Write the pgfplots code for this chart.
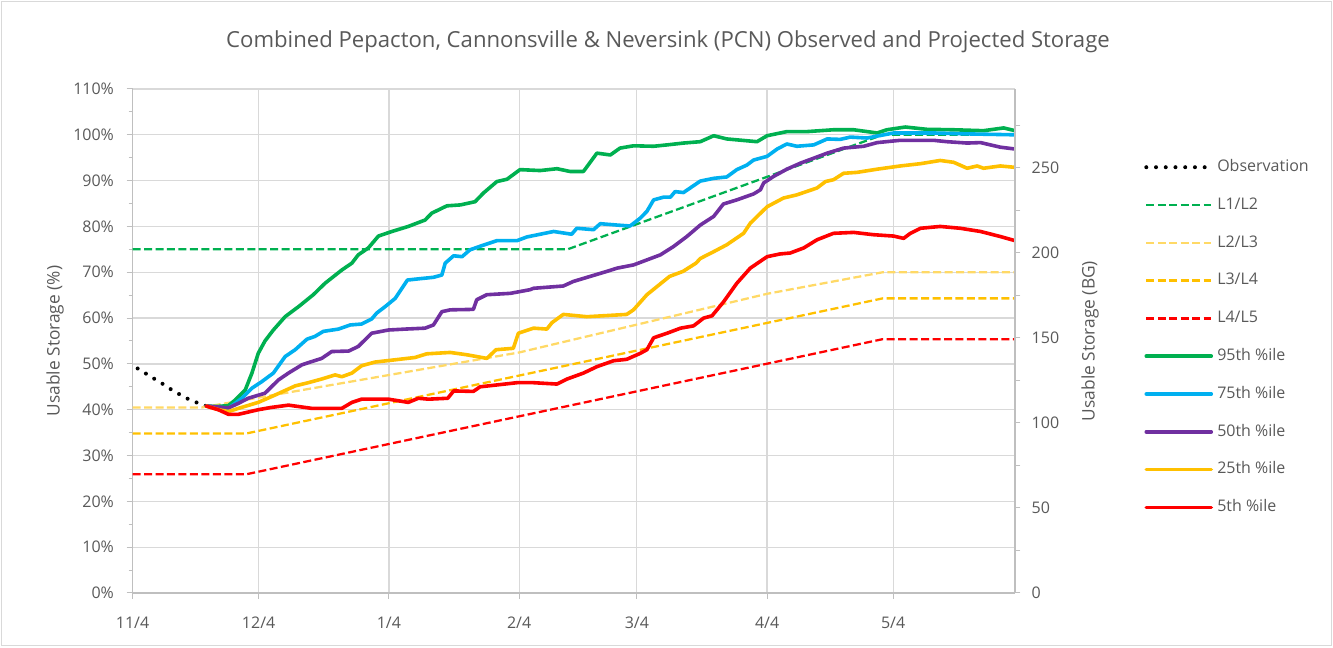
\documentclass[border=0pt]{standalone}
\usepackage{fontspec}
\setmainfont{Open Sans}
\usepackage{pgfplots}
\pgfplotsset{compat=1.18}
\definecolor{txt}{HTML}{595959}
\definecolor{grd}{HTML}{D9D9D9}
\definecolor{axl}{HTML}{BFBFBF}
\definecolor{cgreen}{HTML}{00B050}
\definecolor{cblue}{HTML}{00B0F0}
\definecolor{cpurple}{HTML}{7030A0}
\definecolor{cgold}{HTML}{FFC000}
\definecolor{cred}{HTML}{FF0000}
\definecolor{clight}{HTML}{FFD966}
\pgfplotsset{
  dashln/.style={line width=1.7pt, dash pattern=on 6pt off 2.6pt},
  solidln/.style={line width=2.7pt, line join=round, line cap=round},
}
\begin{document}
\begin{tikzpicture}[x=1pt,y=1pt]
\useasboundingbox (-99.45,-41.25) rectangle (900.3,444.75);
\draw[grd, line width=0.75pt] (-97.95,-39.75) rectangle (898.8,443.25);
\begin{axis}[at={(0,0)}, anchor=south west, scale only axis,
  width=661.8pt, height=378pt,
  xmin=0, xmax=210, ymin=0, ymax=110,
  axis x line*=bottom, axis y line*=left,
  axis line style={axl, line width=0.9pt},
  xtick={0,30,61,92,120,151,181},
  xticklabels={11/4,12/4,1/4,2/4,3/4,4/4,5/4},
  ytick={0,10,...,110}, minor ytick={5,15,...,105},
  yticklabel={\pgfmathprintnumber{\tick}\%},
  /pgf/number format/assume math mode=true,
  grid=major, major grid style={grd, line width=0.9pt},
  tick align=outside, major tick length=4.5pt, minor tick length=3pt,
  tick style={axl, line width=0.75pt},
  every tick label/.append style={text=txt, font=\fontsize{12}{14}\selectfont},
  xticklabel shift=10pt,
  yticklabel shift=6pt,
  ylabel={Usable Storage (\%)},
  ylabel style={at={(axis description cs:0,0.5)}, anchor=center, yshift=58.2pt, text=txt, font=\fontsize{13}{15}\selectfont},
  legend style={at={(1.1462,0.5073)}, anchor=west, draw=none, fill=none,
    inner sep=0pt, row sep=14.85pt, text=txt, font=\fontsize{12}{14}\selectfont,
    nodes={inner sep=0pt, inner xsep=3pt, text height=10pt, text depth=3.5pt}},
  legend cell align=left,
  legend image code/.code={\draw[#1] (0pt,0pt) -- (48.75pt,0pt);},
]
% Observation
\addplot[black, line width=3pt, line cap=round, dash pattern=on 0pt off 7.3pt] coordinates {
(1.2,49.0) (3.5,47.7) (5.6,46.5) (7.6,45.4) (9.7,44.1) (11.7,43.1) (13.9,42.0) (16.1,41.3) (17.5,40.8)};
\addlegendentry{Observation}
% L1/L2
\addplot[cgreen, dashln] coordinates {(0,75) (103.5,75) (178.5,100) (210,100)};
\addlegendentry{L1/L2}
% L2/L3
\addplot[clight, dashln] coordinates {(0,40.5) (16.5,40.5) (92,52.5) (151,65.3) (178.5,70) (210,70)};
\addlegendentry{L2/L3}
% L3/L4
\addplot[cgold, dashln] coordinates {(0,34.8) (27,34.8) (178.5,64.3) (210,64.3)};
\addlegendentry{L3/L4}
% L4/L5
\addplot[cred, dashln] coordinates {(0,25.9) (27,25.9) (178.5,55.4) (210,55.4)};
\addlegendentry{L4/L5}
% 95th
\addplot[cgreen, solidln] coordinates {
(17.5,40.8) (20,40.7) (22.8,40.9) (24.4,42.1) (26.8,44.3) (28.4,48) (29.9,52.3) (31.5,55) (33.5,57.4) (36.3,60.3) (39.5,62.5) (43,65.1) (45.8,67.6) (49.8,70.5) (52.2,72) (53.7,73.8) (56.1,75.3) (58.5,77.9) (61.7,78.9) (65.6,80) (69.6,81.4) (71.2,82.9) (74.8,84.5) (78,84.7) (81.5,85.4) (83.5,87.3) (86.7,89.8) (89.1,90.3) (92.2,92.4) (97,92.2) (101,92.6) (104.1,92) (107.3,92) (110.5,96) (113.7,95.6) (116,97.1) (119.2,97.6) (124,97.5) (127.2,97.8) (131.1,98.2) (135.1,98.5) (138.3,99.8) (141.4,99.1) (148.6,98.5) (151,99.8) (155.7,100.7) (160.5,100.7) (166.8,101.1) (171.6,101.1) (174.8,100.7) (177.2,100.4) (179.5,101.1) (183.9,101.7) (189,101.2) (195.4,101.1) (202.5,100.9) (207.3,101.5) (210,100.9)};
\addlegendentry{95th \%ile}
% 75th
\addplot[cblue, solidln] coordinates {
(17.5,40.8) (22.8,40.3) (26,42.5) (28.4,44.7) (30.7,46.1) (33.5,48) (36.3,51.6) (38.7,53.1) (41.5,55.4) (43.4,56) (45.4,57.1) (49,57.6) (51.8,58.5) (54.5,58.7) (56.9,59.8) (58.1,61.1) (60.1,62.5) (62.5,64.3) (65.4,68.3) (68.4,68.6) (71.6,68.9) (73.6,69.4) (74.4,72) (76.4,73.6) (78.4,73.4) (80.3,74.9) (83.1,75.8) (86.7,76.9) (91.5,76.9) (93.8,77.7) (100.2,78.9) (104.5,78.3) (105.7,79.6) (109.7,79.3) (111.3,80.6) (115.3,80.3) (118.4,80.1) (120.8,81.8) (122.4,83.3) (124,85.8) (126.4,86.4) (128,86.4) (129.1,87.6) (131.1,87.4) (135.1,89.9) (138.3,90.5) (141.4,90.8) (143.8,92.4) (146.2,93.4) (147.8,94.5) (151,95.3) (153.4,96.9) (155.7,98) (158.1,97.5) (162.1,97.8) (165.3,99.1) (168.4,99) (170.8,99.5) (174.8,99.3) (181.1,100.4) (190.6,100.4) (198.6,100.2) (210,100)};
\addlegendentry{75th \%ile}
% 50th
\addplot[cpurple, solidln] coordinates {
(17.5,40.8) (22.8,40.4) (25.2,41.4) (27.5,42.5) (31.5,43.6) (34.7,46.5) (37.1,48) (40.3,49.8) (42.6,50.5) (45,51.2) (47.4,52.7) (51.4,52.8) (53.7,53.8) (56.9,56.7) (60.9,57.4) (64.9,57.6) (69.6,57.8) (71.6,58.5) (73.6,61.4) (75.6,61.8) (81.1,61.9) (81.9,64) (84.3,65.1) (89.9,65.4) (94.6,66.2) (95.4,66.5) (102.5,67) (104.9,68) (108.9,69.1) (112.9,70.2) (115.3,70.9) (119.2,71.6) (122.4,72.7) (125.6,73.8) (128.7,75.6) (131.9,77.8) (135.1,80.3) (138.3,82.2) (140.6,84.9) (143.8,85.8) (147.8,87.1) (149.4,88) (150.2,89.5) (152.5,90.9) (155.7,92.5) (158.9,93.8) (162.1,94.9) (165.3,96) (169.2,97.1) (174,97.5) (177.2,98.3) (182.7,98.8) (190.6,98.8) (193.8,98.5) (198.6,98.2) (201.8,98.3) (206.5,97.3) (210,96.9)};
\addlegendentry{50th \%ile}
% 25th
\addplot[cgold, solidln] coordinates {
(17.5,40.8) (20.5,40) (22.8,39.6) (25.2,40.3) (29.9,41.6) (33.9,43.2) (38.7,45.2) (41.8,45.9) (45,46.7) (48.2,47.6) (49.8,47.2) (52.2,48) (54.5,49.6) (57.7,50.4) (62.5,50.9) (67.2,51.4) (70,52.2) (75.6,52.5) (79.5,52) (84.3,51.2) (86.5,53.1) (90.6,53.4) (91.8,56.7) (95.4,57.8) (98.6,57.6) (99.8,59) (102.5,60.8) (108.1,60.3) (117.6,60.8) (119.2,61.8) (122.4,65.1) (127.8,69.1) (131,70.2) (134.1,72) (135.1,73) (138.3,74.5) (141.4,76) (145.4,78.5) (147,80.7) (151,84.3) (154.9,86.2) (158.1,86.9) (162.9,88.4) (164.9,89.8) (166.8,90.2) (169.2,91.6) (172.4,91.8) (177.2,92.5) (182.7,93.2) (187.5,93.7) (192.2,94.4) (195.4,94) (198.6,92.7) (201,93.2) (202.5,92.7) (206.5,93.2) (210,92.9)};
\addlegendentry{25th \%ile}
% 5th
\addplot[cred, solidln] coordinates {
(17.5,40.8) (20.4,40) (22.8,39) (25.2,39) (29.9,40) (33,40.5) (37.1,41) (42.6,40.3) (49.8,40.3) (52.2,41.6) (54.5,42.3) (60.9,42.3) (65.6,41.6) (68,42.5) (70.4,42.3) (75,42.5) (76.4,44.1) (81.1,44) (82.7,45) (91.5,45.9) (95.4,45.9) (101,45.6) (103.4,46.7) (107.3,48) (110.5,49.4) (114.5,50.7) (117.6,51) (120.8,52.3) (122.4,53.1) (124,55.7) (127.2,56.7) (130.4,57.8) (133.5,58.3) (135.9,60) (137.9,60.5) (140.6,63.5) (143.8,67.6) (147,70.9) (151,73.4) (154.1,74) (156.5,74.2) (159.7,75.3) (162.9,77.1) (166.8,78.5) (171.6,78.7) (176.3,78.2) (181.1,77.9) (183.5,77.4) (185.1,78.5) (187.5,79.6) (192.2,80) (197,79.6) (201.8,78.9) (206.5,77.8) (210,76.9)};
\addlegendentry{5th \%ile}
\end{axis}
\begin{axis}[at={(0,0)}, anchor=south west, scale only axis,
  width=661.8pt, height=378pt,
  xmin=0, xmax=210, ymin=0, ymax=296.4,
  axis x line=none, axis y line*=right,
  axis line style={axl, line width=0.9pt},
  ytick={0,50,...,250}, minor ytick={25,75,...,275},
  /pgf/number format/assume math mode=true,
  tick align=outside, major tick length=4pt, minor tick length=4pt,
  tick style={axl, line width=0.75pt},
  every tick label/.append style={text=txt, font=\fontsize{12}{14}\selectfont},
  yticklabel shift=5pt,
  ylabel={Usable Storage (BG)},
  ylabel style={at={(axis description cs:1,0.5)}, anchor=center, yshift=-56.25pt, text=txt, font=\fontsize{13}{15}\selectfont},
]
\addplot[draw=none, forget plot] coordinates {(0,0)};
\end{axis}
\node[text=txt, font=\fontsize{16.6}{19}\selectfont] at (401.55,413.25) {Combined Pepacton, Cannonsville \& Neversink (PCN) Observed and Projected Storage};
\end{tikzpicture}
\end{document}
